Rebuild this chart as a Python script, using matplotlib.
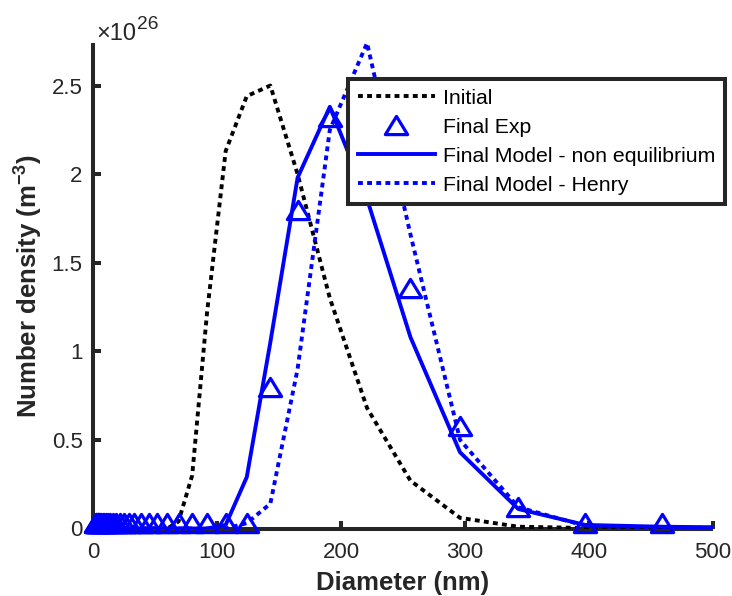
import matplotlib
matplotlib.use("Agg")
import matplotlib.pyplot as plt
from matplotlib.ticker import FuncFormatter, FixedLocator
from matplotlib.path import Path

plt.rcParams['font.family'] = ['Liberation Sans', 'DejaVu Sans']
plt.rcParams['mathtext.fontset'] = 'custom'
plt.rcParams['mathtext.rm'] = 'Liberation Sans'
plt.rcParams['mathtext.it'] = 'Liberation Sans:italic'
plt.rcParams['mathtext.bf'] = 'Liberation Sans:bold'

# ---- data (number density in units of 1e26 m^-3) ----
diameter_nm = [2.4, 2.8, 3.2, 3.7, 4.3, 5.0, 5.8, 6.7, 7.7, 9.0, 10.4, 12.0, 13.9,
               16.0, 18.6, 21.5, 24.8, 28.7, 33.0, 38.5, 45, 52, 60, 69, 80, 92,
               107, 124, 143, 165, 191, 221, 256, 296, 343, 397, 459, 531]

initial = [0.0] * 23 + [0.04, 0.30, 1.22, 2.13, 2.44, 2.50, 2.00, 1.30, 0.68,
                        0.27, 0.06, 0.01, 0.003, 0.0, 0.0]

model_noneq = [0.0] * 26 + [0.02, 0.29, 1.05, 1.98, 2.38, 1.86, 1.08, 0.43,
                            0.11, 0.02, 0.01, 0.005]

model_henry = [0.0] * 27 + [0.03, 0.14, 0.90, 2.25, 2.74, 1.66, 0.50, 0.12,
                            0.015, 0.005, 0.003]

exp_diameter_nm = diameter_nm[:-1]
final_exp = [0.03] * 28 + [0.80, 1.80, 2.32, 2.05, 1.36, 0.58, 0.12, 0.03, 0.03]

x_ticks = [0, 100, 200, 300, 400, 500]
y_ticks = [0, 0.5, 1, 1.5, 2, 2.5]

# ---- figure ----
W, H = 732, 596
fig = plt.figure(figsize=(W / 100, H / 100), dpi=100)
ax = fig.add_axes([93 / W, 1 - 528.5 / H, 620 / W, 485.5 / H])

dark = '#262626'
blue = '#0000ff'
lw = 2.8
dots = (0, (1.25, 1.1))

tri = Path([(-1.0, -0.82), (1.0, -0.82), (0.0, 0.82), (-1.0, -0.82)],
           [Path.MOVETO, Path.LINETO, Path.LINETO, Path.CLOSEPOLY])

ax.plot(diameter_nm, initial, color='black', lw=lw, linestyle=dots,
        label='Initial', zorder=3)
ax.plot(exp_diameter_nm, final_exp, linestyle='none', marker=tri,
        markersize=16, markerfacecolor='none', markeredgecolor=blue,
        markeredgewidth=2.3, label='Final Exp', zorder=4, clip_on=False)
ax.plot(diameter_nm, model_noneq, color=blue, lw=lw, linestyle='-',
        label='Final Model - non equilibrium', zorder=3)
ax.plot(diameter_nm, model_henry, color=blue, lw=lw, linestyle=dots,
        label='Final Model - Henry', zorder=3)

ax.set_xlim(0, 500)
ax.set_ylim(0, 2.74)
ax.xaxis.set_major_locator(FixedLocator(x_ticks))
ax.yaxis.set_major_locator(FixedLocator(y_ticks))
ax.yaxis.set_major_formatter(FuncFormatter(lambda v, p: '%g' % v))

for s in ['top', 'right']:
    ax.spines[s].set_visible(False)
for s in ['left', 'bottom']:
    ax.spines[s].set_linewidth(2.9)
    ax.spines[s].set_color(dark)
    ax.spines[s].set_capstyle('butt')

ax.tick_params(direction='in', length=6, width=2.9, color=dark,
               labelcolor=dark, labelsize=16)
ax.tick_params(axis='x', pad=9.5)
ax.tick_params(axis='y', pad=7.5)

ax.set_xlabel('Diameter (nm)', fontsize=18.5, fontweight='bold', color=dark,
              labelpad=6)
ax.set_ylabel(r'Number density (m$^{\mathbf{-3}}$)', fontsize=18.5,
              fontweight='bold', color=dark, labelpad=5)

fig.text(96 / W, 1 - 40 / H, '\u00d710', fontsize=17, color=dark,
         va='baseline', ha='left')
fig.text(137 / W, 1 - 29 / H, '26', fontsize=13.8, color=dark,
         va='baseline', ha='left')

leg = ax.legend(loc='upper left', bbox_to_anchor=(348 / W, 1 - 79 / H),
                bbox_transform=fig.transFigure, fontsize=15.3, frameon=True,
                fancybox=False, borderaxespad=0, borderpad=0.45,
                handlelength=3.65, handletextpad=0.37, labelspacing=0.47)
leg.get_frame().set_edgecolor(dark)
leg.get_frame().set_linewidth(2.9)
leg.get_frame().set_alpha(1)
leg.set_zorder(10)

fig.savefig('out.png', dpi=100, facecolor='white')
